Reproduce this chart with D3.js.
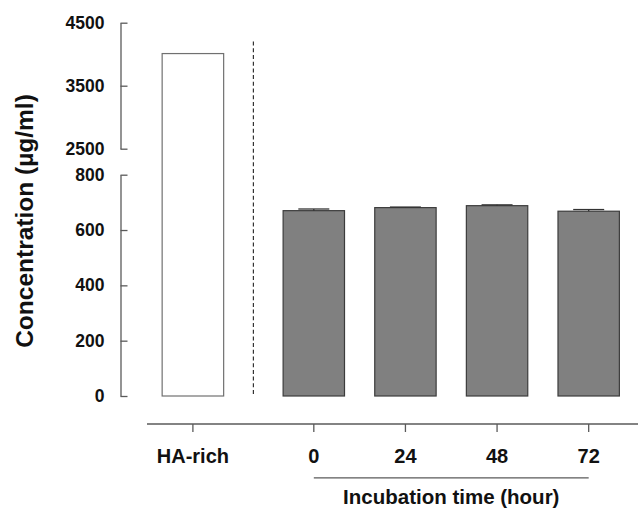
<!DOCTYPE html>
<html>
<head>
<meta charset="utf-8">
<script src="https://cdn.jsdelivr.net/npm/d3@7"></script>
<style>
  body { margin: 0; background: #fff; }
  text { font-family: "Liberation Sans", Arial, sans-serif; font-weight: bold; fill: #111; }
</style>
</head>
<body>
<svg id="chart" width="638" height="509"></svg>
<script>
// data
const refGroups = ["HA-rich"];
const refValues = [4010];
const times = ["0", "24", "48", "72"];
const timeValues = [670, 681, 688, 668];
const timeErrors = [6, 2, 3, 6];
const upperTicks = [2500, 3500, 4500];
const lowerTicks = [0, 200, 400, 600, 800];

const svg = d3.select("#chart");
const axisColor = "#5a5a5a";

// broken y axis: two linear segments
const yLow = d3.scaleLinear().domain([0, 800]).range([396, 174.7]);
const yHigh = d3.scaleLinear().domain([2500, 4500]).range([148.7, 22.7]);
const axisX = 120.5;

// x: one band for the reference, four for the time points
const xRef = d3.scaleBand().domain(refGroups).range([147, 238.8])
    .paddingInner(0.33).paddingOuter(0.165);
const xTime = d3.scaleBand().domain(times).range([268, 634.5])
    .paddingInner(0.33).paddingOuter(0.165);

// y axes
function drawY(scale, ticks) {
    const g = svg.append("g")
        .attr("transform", "translate(" + axisX + ",0)")
        .call(d3.axisLeft(scale).tickValues(ticks).tickFormat(d3.format("d"))
            .tickSizeInner(-7).tickSizeOuter(0).tickPadding(16));
    g.selectAll("path, line").attr("stroke", axisColor).attr("stroke-width", 1.3);
    g.selectAll("text").style("font-size", "17.5px").attr("fill", "#111")
        .attr("font-family", null);
}
drawY(yHigh, upperTicks);
drawY(yLow, lowerTicks);

// reference bar spans the break
svg.append("g").selectAll("rect")
    .data(refGroups)
    .join("rect")
    .attr("x", d => xRef(d))
    .attr("width", xRef.bandwidth())
    .attr("y", (d, i) => yHigh(refValues[i]))
    .attr("height", (d, i) => yLow(0) - yHigh(refValues[i]))
    .attr("fill", "#fff")
    .attr("stroke", "#707070")
    .attr("stroke-width", 1.2);

// separator
const sepX = (xRef.range()[1] + xTime.range()[0]) / 2;
svg.append("line")
    .attr("x1", sepX).attr("x2", sepX)
    .attr("y1", yHigh(4200)).attr("y2", yLow(0))
    .attr("stroke", "#333")
    .attr("stroke-width", 1.2)
    .attr("stroke-dasharray", "4,2.7");

// time bars
const tb = svg.append("g");
tb.selectAll("rect")
    .data(times)
    .join("rect")
    .attr("x", d => xTime(d))
    .attr("width", xTime.bandwidth())
    .attr("y", (d, i) => yLow(timeValues[i]))
    .attr("height", (d, i) => yLow(0) - yLow(timeValues[i]))
    .attr("fill", "#808080")
    .attr("stroke", "#3c3c3c")
    .attr("stroke-width", 1.2);

// error bars
const capW = 31;
const eb = svg.append("g").attr("stroke", "#333").attr("stroke-width", 1.3);
times.forEach((t, i) => {
    const cx = xTime(t) + xTime.bandwidth() / 2;
    eb.append("line")
        .attr("x1", cx).attr("x2", cx)
        .attr("y1", yLow(timeValues[i])).attr("y2", yLow(timeValues[i] + timeErrors[i]));
    eb.append("line")
        .attr("x1", cx - capW / 2).attr("x2", cx + capW / 2)
        .attr("y1", yLow(timeValues[i] + timeErrors[i])).attr("y2", yLow(timeValues[i] + timeErrors[i]));
});

// x axis
const baseY = 424;
svg.append("line")
    .attr("x1", xRef.range()[0]).attr("x2", 638)
    .attr("y1", baseY).attr("y2", baseY)
    .attr("stroke", axisColor).attr("stroke-width", 1.3);

function drawX(scale) {
    const g = svg.append("g")
        .attr("transform", "translate(0," + baseY + ")")
        .call(d3.axisBottom(scale).tickSizeInner(8).tickSizeOuter(0).tickPadding(16.5));
    g.select(".domain").remove();
    g.selectAll("line").attr("stroke", axisColor).attr("stroke-width", 1.3);
    g.selectAll("text").style("font-size", "20px").attr("fill", "#111")
        .attr("font-family", null);
}
drawX(xRef);
drawX(xTime);

// bracket under time labels
const t0 = xTime(times[0]) + xTime.bandwidth() / 2;
const t1 = xTime(times[times.length - 1]) + xTime.bandwidth() / 2;
svg.append("line")
    .attr("x1", t0).attr("x2", t1)
    .attr("y1", 477.8).attr("y2", 477.8)
    .attr("stroke", axisColor).attr("stroke-width", 1.3);

svg.append("text")
    .attr("x", (t0 + t1) / 2)
    .attr("y", 504)
    .attr("text-anchor", "middle")
    .style("font-size", "20.5px")
    .text("Incubation time (hour)");

// y title
svg.append("text")
    .attr("transform", "translate(33,221) rotate(-90)")
    .attr("text-anchor", "middle")
    .style("font-size", "24.5px")
    .text("Concentration (µg/ml)");
</script>
</body>
</html>
